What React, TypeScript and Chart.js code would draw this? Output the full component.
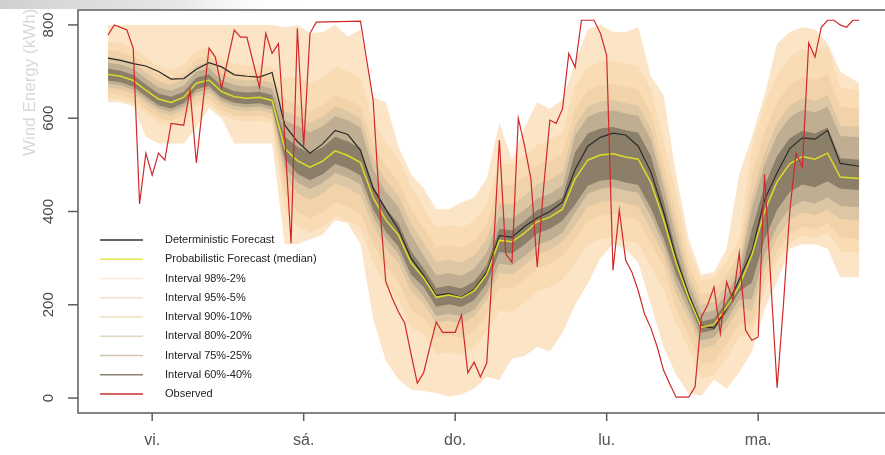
import { useEffect, useRef } from 'react';
import { Chart, registerables } from 'chart.js';

Chart.register(...registerables);

// ---- time grid (hours from first forecast step) ----
const hours = [0,2,4,6,8,10,12,14,16,18,20,22,24,26,28,30,32,34,36,38,40,42,44,46,48,50,52,54,56,58,60,62,64,66,68,70,72,74,76,78,80,82,84,86,88,90,92,94,96,98,100,102,104,106,108,110,112,114,116,119];

const median = [694,690,681,660,641,634,645,675,682,657,646,643,645,638,535,509,495,508,530,520,505,430,382,350,290,258,216,221,215,230,265,338,335,354,378,388,405,470,510,521,524,517,512,462,383,290,215,152,158,195,240,307,400,464,502,518,512,525,474,471];
const deterministic = [729,724,717,712,700,684,685,705,719,710,693,690,688,698,585,550,525,545,574,565,531,450,405,362,300,263,220,224,216,233,270,348,345,368,386,400,420,490,540,559,568,564,540,485,400,300,222,155,150,192,255,314,425,483,535,558,555,574,503,497];

const q98 = [800,800,800,800,800,800,800,800,800,800,800,800,800,800,795,800,782,785,800,775,790,645,635,540,480,450,405,405,420,430,470,590,510,580,635,620,640,720,790,800,785,785,795,690,650,480,340,265,270,320,480,560,650,760,785,795,790,760,700,675];
const q02 = [634,634,625,560,546,546,546,580,622,600,546,546,546,546,330,330,340,350,381,375,330,170,80,40,18,15,11,3,8,20,45,39,85,90,110,100,140,200,245,300,330,320,290,200,110,50,10,5,40,20,55,100,190,250,320,330,330,320,259,259];
const q95 = [764,760,751,730,711,704,715,745,752,727,716,713,715,708,685,689,675,688,710,700,685,595,547,515,455,408,366,371,365,380,415,503,500,519,543,553,570,670,710,721,724,717,712,662,553,440,315,252,258,295,340,537,630,694,732,748,742,755,664,661];
const q05 = [644,640,631,610,591,584,595,625,632,607,596,593,595,588,405,369,355,368,390,380,365,290,242,210,150,136,94,99,93,108,143,188,185,204,228,238,255,290,330,341,344,337,332,282,233,160,105,42,48,85,130,137,230,294,332,348,342,355,314,311];
const q90 = [746,742,733,712,693,686,697,727,734,709,698,695,697,690,640,629,615,628,650,640,625,545,497,465,405,365,323,328,322,337,372,458,455,474,498,508,525,620,660,671,674,667,662,612,503,400,285,222,228,265,310,477,570,634,672,688,682,695,624,621];
const q10 = [654,650,641,620,601,594,605,635,642,617,606,603,605,598,440,399,385,398,420,410,395,330,282,250,190,172,130,135,129,144,179,238,235,254,278,288,305,340,380,391,394,387,382,332,283,190,135,72,78,115,160,157,250,314,352,368,362,375,344,341];
const q80 = [732,728,719,698,679,672,683,713,720,695,684,681,683,676,615,604,590,603,625,615,600,515,467,435,375,333,291,296,290,305,340,418,415,434,458,468,485,585,625,636,639,632,627,577,473,370,263,200,206,243,288,432,525,589,627,643,637,650,584,581];
const q20 = [666,662,653,632,613,606,617,647,654,629,618,615,617,610,475,439,425,438,460,450,435,370,322,290,230,203,161,166,160,175,210,268,265,284,308,318,335,370,410,421,424,417,412,362,308,225,170,107,113,150,195,187,280,344,382,398,392,405,384,381];
const q75 = [719,715,706,685,666,659,670,700,707,682,671,668,670,663,595,584,570,583,605,595,580,490,442,410,350,305,263,268,262,277,312,388,385,404,428,438,455,563,603,614,617,610,605,555,453,345,245,182,188,225,270,407,500,564,602,618,612,625,562,559];
const q25 = [674,670,661,640,621,614,625,655,662,637,626,623,625,618,495,462,448,461,483,473,458,390,342,310,250,218,176,181,175,190,225,288,285,304,328,338,355,398,438,449,452,445,440,390,328,245,187,124,130,167,212,212,305,369,407,423,417,430,412,409];
const q60 = [706,702,693,672,653,646,657,687,694,669,658,655,657,650,560,539,525,538,560,550,535,455,407,375,315,278,236,241,235,250,285,363,360,379,403,413,430,527,567,578,581,574,569,519,423,315,227,164,170,207,252,362,455,519,557,573,567,580,514,511];
const q40 = [681,677,668,647,628,621,632,662,669,644,633,630,632,625,513,481,467,480,502,492,477,405,357,325,265,238,196,201,195,210,245,313,310,329,353,363,380,415,455,466,469,462,457,407,343,265,203,140,146,183,228,247,340,404,442,458,452,465,449,446];

// ---- observed (hourly vertices) ----
const obsHours = [0,1,3,4,5,6,7,8,9,10,12,13,14,16,17,18,20,21,22,24,25,26,27,28,29,30,31,32,33,40,42,43,44,45,46,47,48,49,50,51,52,53,55,56,57,58,59,60,61,62,63,64,65,66,67,68,69,70,71,72,73,74,75,77,78,79,80,81,82,83,84,85,86,87,88,89,90,92,93,94,95,96,97,98,99,100,101,102,103,104,105,106,107,108,109,110,111,112,113,114,115,116,117,118,119];
const observed = [778,800,789,750,416,525,478,525,510,589,585,660,504,750,731,664,789,774,774,666,782,739,760,560,332,793,540,782,806,808,639,420,250,215,185,161,95,32,54,110,163,141,141,178,54,77,45,75,300,553,310,291,600,540,470,281,450,596,589,620,739,709,810,810,782,735,274,403,296,270,230,180,150,110,60,30,2,2,24,174,200,238,139,249,210,311,146,124,131,480,250,22,200,400,525,495,761,731,795,810,810,800,795,810,810];

// ---- axes ----
const dayTicks = [7, 31, 55, 79, 103];
const dayLabels = ['vi.', 'sá.', 'do.', 'lu.', 'ma.'];
const yTicks = [0, 200, 400, 600, 800];
const yTitle = 'Wind Energy (kWh)';

const legendLabels = ['Deterministic Forecast', 'Probabilistic Forecast (median)', 'Interval 98%-2%', 'Interval 95%-5%', 'Interval 90%-10%', 'Interval 80%-20%', 'Interval 75%-25%', 'Interval 60%-40%', 'Observed'];
const legendColors = ['#333333', '#E6E64A', '#F6E9D6', '#F3E2C9', '#ECDFC2', '#E2D8C2', '#CFC4B0', '#8C8376', '#C83030'];

const bandColors = { b98: '#FCE4C6', b95: '#F9DBB4', b90: '#F2D2A8', b80: '#DDC6A3', b75: '#BFAE91', b60: '#8C7F69' };

const X_MIN = -4.75;
const X_MAX = 123.09;
const FONT = '"Liberation Sans", Arial, sans-serif';

function pts(xs: number[], ys: number[]) {
  return xs.map((x, i) => ({ x, y: ys[i] }));
}

function band(lo: number[], hi: number[], color: string, order: number) {
  return [
    { data: pts(hours, lo), borderWidth: 0, borderColor: 'transparent', pointRadius: 0, fill: false, order },
    { data: pts(hours, hi), borderWidth: 0, borderColor: 'transparent', pointRadius: 0, fill: '-1', backgroundColor: color, order: order - 1 },
  ];
}

const decorPlugin = {
  id: 'decor',
  beforeDraw(chart: any) {
    const ctx = chart.ctx;
    ctx.save();
    ctx.fillStyle = '#ffffff';
    ctx.fillRect(0, 0, chart.width, chart.height);
    ctx.restore();
  },
  afterDraw(chart: any) {
    const ctx = chart.ctx;
    const xs = chart.scales.x;
    const ys = chart.scales.y;
    const a = chart.chartArea;
    ctx.save();

    // y title (drawn first so the top fade cuts it)
    ctx.save();
    ctx.translate(30, 156);
    ctx.rotate(-Math.PI / 2);
    ctx.textAlign = 'left';
    ctx.textBaseline = 'middle';
    ctx.fillStyle = '#d8d8d8';
    ctx.font = `17px ${FONT}`;
    ctx.fillText(yTitle, 0, 0);
    ctx.restore();

    // top fade band
    const g = ctx.createLinearGradient(0, 0, 300, 0);
    g.addColorStop(0, 'rgba(208,208,208,1)');
    g.addColorStop(0.6, 'rgba(225,225,225,0.8)');
    g.addColorStop(1, 'rgba(255,255,255,0)');
    ctx.fillStyle = g;
    ctx.fillRect(0, 0, 300, 9);

    // box
    ctx.strokeStyle = '#5c5c5c';
    ctx.lineWidth = 1.5;
    ctx.beginPath();
    ctx.moveTo(a.right + 2, a.top);
    ctx.lineTo(a.left, a.top);
    ctx.lineTo(a.left, a.bottom);
    ctx.lineTo(a.right + 2, a.bottom);
    ctx.stroke();

    // y ticks
    ctx.fillStyle = '#4a4a4a';
    ctx.font = `15px ${FONT}`;
    ctx.textAlign = 'center';
    ctx.textBaseline = 'middle';
    yTicks.forEach((v) => {
      const py = ys.getPixelForValue(v);
      ctx.beginPath();
      ctx.moveTo(a.left - 10, py);
      ctx.lineTo(a.left, py);
      ctx.stroke();
      ctx.save();
      ctx.translate(49, py);
      ctx.rotate(-Math.PI / 2);
      ctx.fillText(String(v), 0, 0);
      ctx.restore();
    });

    // x ticks
    ctx.font = `16px ${FONT}`;
    ctx.fillStyle = '#555555';
    dayTicks.forEach((h, i) => {
      const px = xs.getPixelForValue(h);
      ctx.beginPath();
      ctx.moveTo(px, a.bottom);
      ctx.lineTo(px, a.bottom + 8);
      ctx.stroke();
      ctx.fillText(dayLabels[i], px, 441);
    });

    // legend
    ctx.font = `11px ${FONT}`;
    ctx.textAlign = 'left';
    ctx.textBaseline = 'middle';
    legendLabels.forEach((lab, i) => {
      const y = 240 + i * 19.25;
      ctx.strokeStyle = legendColors[i];
      ctx.lineWidth = 1.5;
      ctx.beginPath();
      ctx.moveTo(100, y);
      ctx.lineTo(143, y);
      ctx.stroke();
      ctx.fillStyle = '#222222';
      ctx.fillText(lab, 165, y);
    });
    ctx.restore();
  },
};

export default function App() {
  const ref = useRef<HTMLCanvasElement | null>(null);
  useEffect(() => {
    if (!ref.current) return;
    const datasets: any[] = [
      ...band(q02, q98, bandColors.b98, 20),
      ...band(q05, q95, bandColors.b95, 18),
      ...band(q10, q90, bandColors.b90, 16),
      ...band(q20, q80, bandColors.b80, 14),
      ...band(q25, q75, bandColors.b75, 12),
      ...band(q40, q60, bandColors.b60, 10),
      { data: pts(hours, deterministic), borderColor: '#2a2a2a', borderWidth: 1.2, pointRadius: 0, fill: false, order: 4 },
      { data: pts(hours, median), borderColor: '#DCDC28', borderWidth: 1.5, pointRadius: 0, fill: false, order: 3 },
      { data: pts(obsHours, observed), borderColor: '#D02828', borderWidth: 1.2, pointRadius: 0, fill: false, order: 1 },
    ];
    const chart = new Chart(ref.current, {
      type: 'line',
      data: { datasets },
      options: {
        animation: false,
        responsive: false,
        maintainAspectRatio: false,
        layout: { padding: { left: 78, top: 10, right: 0, bottom: 42 } },
        plugins: { legend: { display: false }, tooltip: { enabled: false } },
        elements: { point: { radius: 0 }, line: { tension: 0 } },
        scales: {
          x: { type: 'linear', min: X_MIN, max: X_MAX, display: false },
          y: { type: 'linear', min: -32, max: 832, display: false },
        },
      },
      plugins: [decorPlugin],
    } as any);
    return () => chart.destroy();
  }, []);
  return (
    <div style={{ position: 'absolute', left: 0, top: 0, width: 885, height: 455, background: '#fff' }}>
      <canvas ref={ref} width={885} height={455} style={{ display: 'block', width: 885, height: 455 }} />
    </div>
  );
}
